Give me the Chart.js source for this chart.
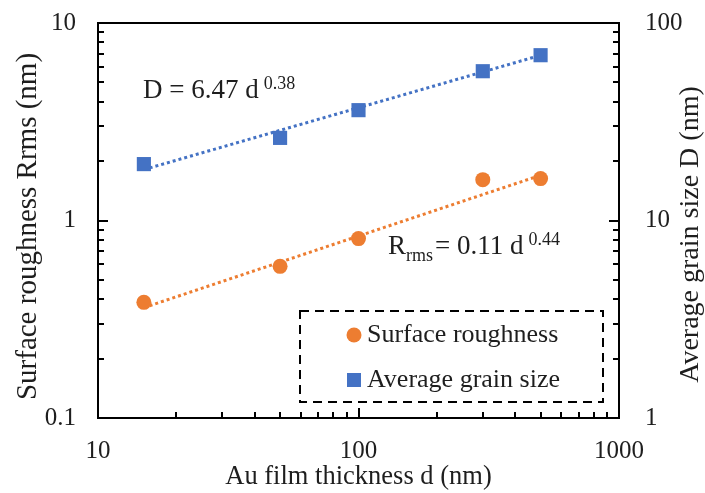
<!DOCTYPE html>
<html>
<head>
<meta charset="utf-8">
<script src="https://cdn.jsdelivr.net/npm/chart.js@4.4.0/dist/chart.umd.min.js"></script>
<style>
  html, body { margin: 0; background: #fff; }
  #wrap { position: relative; width: 705px; height: 493px; }
  #frame { position: absolute; left: 0; top: 0; pointer-events: none; }
</style>
</head>
<body>
<div id="wrap">
  <canvas id="grainChart" width="705" height="493"></canvas>
  <canvas id="frame" width="705" height="493"></canvas>
</div>
<script>
// Au film thickness d (nm)
const thickness = [15, 50, 100, 300, 500];
// surface roughness Rrms (nm), left axis
const roughness = [0.385, 0.586, 0.81, 1.61, 1.63];
// average grain size D (nm), right axis
const grainSize = [19.3, 26.2, 36.2, 57, 68.7];

// power-law fits y = a * d^b, drawn over the measured thickness range
const fitRange = [15, 500];
const roughFit = [0.11, 0.44];
const grainFit = [6.47, 0.38];

const xTickLabels = ['10', '100', '1000'];
const yTickLabels = ['0.1', '1', '10'];
const y2TickLabels = ['1', '10', '100'];
const seriesNames = ['Surface roughness', 'Average grain size'];

const ORANGE = '#ED7D31';
const BLUE = '#4472C4';
const INK = '#1e1e1e';
const SERIF = "'Liberation Serif', 'Times New Roman', serif";

const fitLine = (fit) => fitRange.map(d => ({ x: d, y: fit[0] * Math.pow(d, fit[1]) }));
const points = (vals) => thickness.map((d, i) => ({ x: d, y: vals[i] }));

// only the decades get a label
const decade = (v) => {
  const e = Math.log10(v);
  return Math.abs(e - Math.round(e)) < 1e-6 ? Math.round(e) : null;
};
// 1..9 times a power of ten (chart.js also adds 1.5, 15, ... which we skip)
const wholeStep = (v) => {
  const m = v / Math.pow(10, Math.floor(Math.log10(v) + 1e-9));
  return Math.abs(m - Math.round(m)) < 1e-6;
};

const tickFont = { family: SERIF, size: 25 };
const axisBorder = { display: true, color: '#000', width: 2 };

// plot box and inward tick marks, painted on the canvas laid over the chart
function drawFrame(chart) {
  const ctx = document.getElementById('frame').getContext('2d');
  const { chartArea: a, scales } = chart;
  ctx.clearRect(0, 0, ctx.canvas.width, ctx.canvas.height);
  ctx.fillStyle = '#000';
  // box as four 2px bars
  ctx.fillRect(a.left - 1, a.top - 1, a.right - a.left + 2, 2);
  ctx.fillRect(a.left - 1, a.bottom - 1, a.right - a.left + 2, 2);
  ctx.fillRect(a.left - 1, a.top - 1, 2, a.bottom - a.top + 2);
  ctx.fillRect(a.right - 1, a.top - 1, 2, a.bottom - a.top + 2);

  const sides = [
    [scales.x, (p, len) => ctx.fillRect(Math.round(p) - 1, a.bottom - len, 2, len)],
    [scales.y, (p, len) => ctx.fillRect(a.left, Math.round(p) - 1, len, 2)],
    [scales.y2, (p, len) => ctx.fillRect(a.right - len, Math.round(p) - 1, len, 2)]
  ];
  sides.forEach(([scale, bar]) => {
    scale.ticks.forEach(t => {
      if (!wholeStep(t.value)) return;
      bar(scale.getPixelForValue(t.value), decade(t.value) !== null ? 10 : 6);
    });
  });
}

// axis titles on the sides, the fit equations and the boxed legend
function drawLabels(chart) {
  const { ctx, chartArea: a } = chart;
  ctx.save();
  ctx.fillStyle = INK;
  ctx.textBaseline = 'middle';
  ctx.textAlign = 'center';

  ctx.save();
  ctx.translate(28, (a.top + a.bottom) / 2 + 6);
  ctx.rotate(-Math.PI / 2);
  ctx.font = `29px ${SERIF}`;
  ctx.fillText('Surface roughness Rrms (nm)', 0, 0);
  ctx.restore();

  ctx.save();
  ctx.translate(691, (a.top + a.bottom) / 2 + 14);
  ctx.rotate(-Math.PI / 2);
  ctx.font = `28px ${SERIF}`;
  ctx.fillText('Average grain size D (nm)', 0, 0);
  ctx.restore();

  // fit equations
  ctx.textAlign = 'left';
  ctx.textBaseline = 'alphabetic';
  const big = `27px ${SERIF}`;
  const small = `18px ${SERIF}`;
  let x = 143;
  ctx.font = big;
  ctx.fillText('D = ' + grainFit[0] + ' d', x, 98);
  x += ctx.measureText('D = ' + grainFit[0] + ' d').width + 5;
  ctx.font = small;
  ctx.fillText(String(grainFit[1]), x, 89);

  x = 388;
  ctx.font = big;
  ctx.fillText('R', x, 254);
  x += ctx.measureText('R').width;
  ctx.font = small;
  ctx.fillText('rms', x, 261);
  x += ctx.measureText('rms').width + 2;
  ctx.font = big;
  ctx.fillText('= ' + roughFit[0].toFixed(2) + ' d', x, 254);
  x += ctx.measureText('= ' + roughFit[0].toFixed(2) + ' d').width + 5;
  ctx.font = small;
  ctx.fillText(roughFit[1].toFixed(2), x, 245);

  // legend box
  ctx.strokeStyle = '#000';
  ctx.lineWidth = 2;
  ctx.setLineDash([9, 6]);
  ctx.strokeRect(300, 311, 303, 91);
  ctx.setLineDash([]);

  ctx.fillStyle = ORANGE;
  ctx.beginPath();
  ctx.arc(354, 335, 7.5, 0, Math.PI * 2);
  ctx.fill();
  ctx.fillStyle = BLUE;
  ctx.fillRect(347, 373, 14, 14);

  ctx.fillStyle = INK;
  ctx.font = `26px ${SERIF}`;
  ctx.textBaseline = 'middle';
  ctx.fillText(seriesNames[0], 367, 335);
  ctx.fillText(seriesNames[1], 367, 380);
  ctx.restore();
}

const decorations = {
  id: 'decorations',
  afterDraw(chart) {
    drawLabels(chart);
    drawFrame(chart);
  }
};

// fixed axis sizes, no extra room for overhanging tick labels
const fixWidth = (w) => (s) => { s.width = w; s.paddingTop = 0; s.paddingBottom = 0; };

new Chart(document.getElementById('grainChart'), {
  type: 'scatter',
  data: {
    datasets: [
      {
        label: 'Rrms fit',
        data: fitLine(roughFit),
        yAxisID: 'y',
        showLine: true,
        borderColor: ORANGE,
        borderWidth: 3,
        borderDash: [3, 3],
        pointRadius: 0,
        order: 3
      },
      {
        label: 'D fit',
        data: fitLine(grainFit),
        yAxisID: 'y2',
        showLine: true,
        borderColor: BLUE,
        borderWidth: 3,
        borderDash: [3, 3],
        pointRadius: 0,
        order: 3
      },
      {
        label: seriesNames[0],
        data: points(roughness),
        yAxisID: 'y',
        pointStyle: 'circle',
        pointRadius: 7.5,
        pointBackgroundColor: ORANGE,
        pointBorderWidth: 0,
        order: 1
      },
      {
        label: seriesNames[1],
        data: points(grainSize),
        yAxisID: 'y2',
        pointStyle: 'rect',
        pointRadius: 10,
        pointBackgroundColor: BLUE,
        pointBorderWidth: 0,
        order: 1
      }
    ]
  },
  options: {
    responsive: false,
    animation: false,
    devicePixelRatio: 1,
    layout: { padding: { top: 23, left: 0, right: 0, bottom: 0 } },
    plugins: { legend: { display: false }, tooltip: { enabled: false } },
    scales: {
      x: {
        type: 'logarithmic',
        position: 'bottom',
        min: 10,
        max: 1000,
        grid: { display: false, drawTicks: false },
        border: axisBorder,
        ticks: {
          autoSkip: false,
          maxRotation: 0,
          padding: 18,
          color: INK,
          font: tickFont,
          callback: (v) => { const e = decade(v); return e === null ? '' : xTickLabels[e - 1]; }
        },
        title: {
          display: true,
          text: 'Au film thickness d (nm)',
          color: INK,
          font: { family: SERIF, size: 26.5 },
          padding: 0
        },
        afterFit: (s) => { s.height = 75; s.paddingLeft = 0; s.paddingRight = 0; }
      },
      y: {
        type: 'logarithmic',
        position: 'left',
        min: 0.1,
        max: 10,
        grid: { display: false, drawTicks: false },
        border: axisBorder,
        ticks: {
          autoSkip: false,
          padding: 22,
          color: INK,
          font: tickFont,
          callback: (v) => { const e = decade(v); return e === null ? '' : yTickLabels[e + 1]; }
        },
        afterFit: fixWidth(98)
      },
      y2: {
        type: 'logarithmic',
        position: 'right',
        min: 1,
        max: 100,
        grid: { display: false, drawTicks: false },
        border: axisBorder,
        ticks: {
          autoSkip: false,
          padding: 26,
          color: INK,
          font: tickFont,
          callback: (v) => { const e = decade(v); return e === null ? '' : y2TickLabels[e]; }
        },
        afterFit: fixWidth(86)
      }
    }
  },
  plugins: [decorations]
});
</script>
</body>
</html>
